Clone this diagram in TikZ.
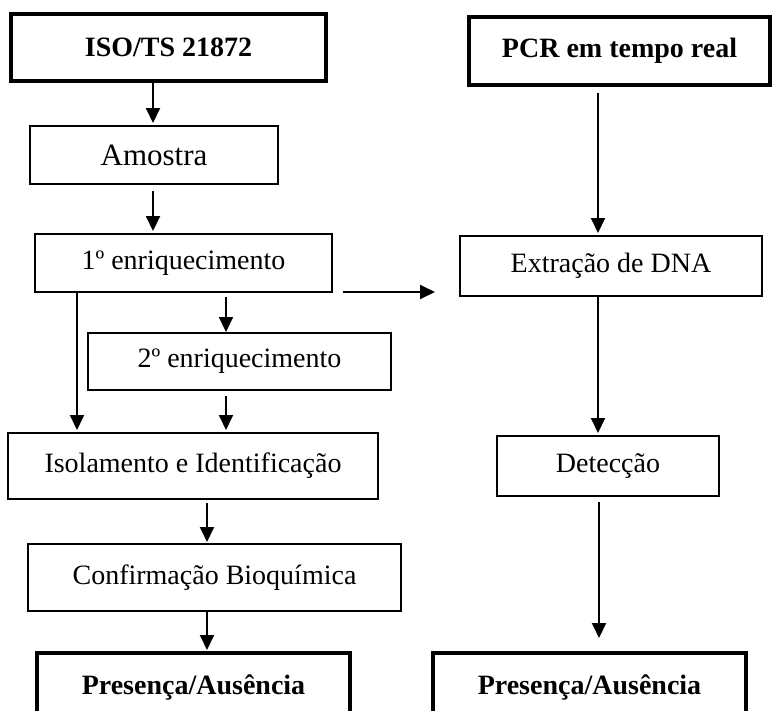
\documentclass[tikz,border=0pt]{standalone}
\usepackage{fontspec}
\setmainfont{Liberation Serif}
\usetikzlibrary{arrows.meta}
\begin{document}
\begin{tikzpicture}[x=1pt,y=-1pt,
  box/.style={draw, line width=2pt, inner sep=0pt, outer sep=0pt, align=center,
    font=\fontsize{28}{32}\selectfont},
  thickbox/.style={box, line width=4pt, font=\fontsize{28}{32}\selectfont\bfseries},
  arr/.style={line width=2pt, -{Triangle[length=15pt,width=14pt]}}]
\useasboundingbox (0,0) rectangle (776,710);
\clip (0,0) rectangle (776,710);
% left column
\node[thickbox, minimum width=315pt, minimum height=67pt] (iso) at (168.5,47.5) {ISO/TS 21872};
\node[box, minimum width=248pt, minimum height=58pt, font=\fontsize{31}{34}\selectfont] (amo) at (154,155) {Amostra};
\node[box, minimum width=297pt, minimum height=58pt] (enr1) at (183.5,263) {1º enriquecimento};
\node[box, minimum width=303pt, minimum height=57pt] (enr2) at (239.5,361.5) {2º enriquecimento};
\node[box, minimum width=370pt, minimum height=66pt] (isol) at (193,466) {Isolamento e Identificação};
\node[box, minimum width=373pt, minimum height=67pt] (conf) at (214.5,577.5) {Confirmação Bioquímica};
\node[thickbox, minimum width=313pt, minimum height=69pt] (pres1) at (193.5,687.5) {Presença/Ausência};
% right column
\node[thickbox, minimum width=301pt, minimum height=68pt] (pcr) at (619.5,51) {PCR em tempo real};
\node[box, minimum width=302pt, minimum height=60pt] (ext) at (611,266) {Extração de DNA};
\node[box, minimum width=222pt, minimum height=60pt] (det) at (608,466) {Detecção};
\node[thickbox, minimum width=313pt, minimum height=69pt] (pres2) at (589.5,687.5) {Presença/Ausência};
% connectors
\draw[arr, shorten >=3pt] ([xshift=-15.5pt]iso.south) -- ([xshift=-1pt]amo.north);
\draw[arr, shorten <=7pt, shorten >=3pt] ([xshift=-1pt]amo.south) -- ([xshift=-30.5pt]enr1.north);
\draw[arr, shorten <=11pt, shorten >=25pt] (enr1.south east) -- (ext.west |- enr1.south);
\draw[arr, shorten >=3pt] ([xshift=-106.5pt]enr1.south) -- ([xshift=-116pt]isol.north);
\draw[arr, shorten <=5pt, shorten >=1pt] ([xshift=42.5pt]enr1.south) -- ([xshift=-13.5pt]enr2.north);
\draw[arr, shorten <=6pt, shorten >=3pt] ([xshift=-13.5pt]enr2.south) -- ([xshift=33pt]isol.north);
\draw[arr, shorten <=4pt, shorten >=2pt] ([xshift=14pt]isol.south) -- ([xshift=-7.5pt]conf.north);
\draw[arr, shorten >=3pt] ([xshift=-7.5pt]conf.south) -- ([xshift=13.5pt]pres1.north);
\draw[arr, shorten <=8pt, shorten >=3pt] ([xshift=-21.5pt]pcr.south) -- ([xshift=-13pt]ext.north);
\draw[arr, shorten <=1pt, shorten >=3pt] ([xshift=-13pt]ext.south) -- ([xshift=-10pt]det.north);
\draw[arr, shorten <=6pt, shorten >=15pt] ([xshift=-9pt]det.south) -- ([xshift=9.5pt]pres2.north);
\end{tikzpicture}
\end{document}
